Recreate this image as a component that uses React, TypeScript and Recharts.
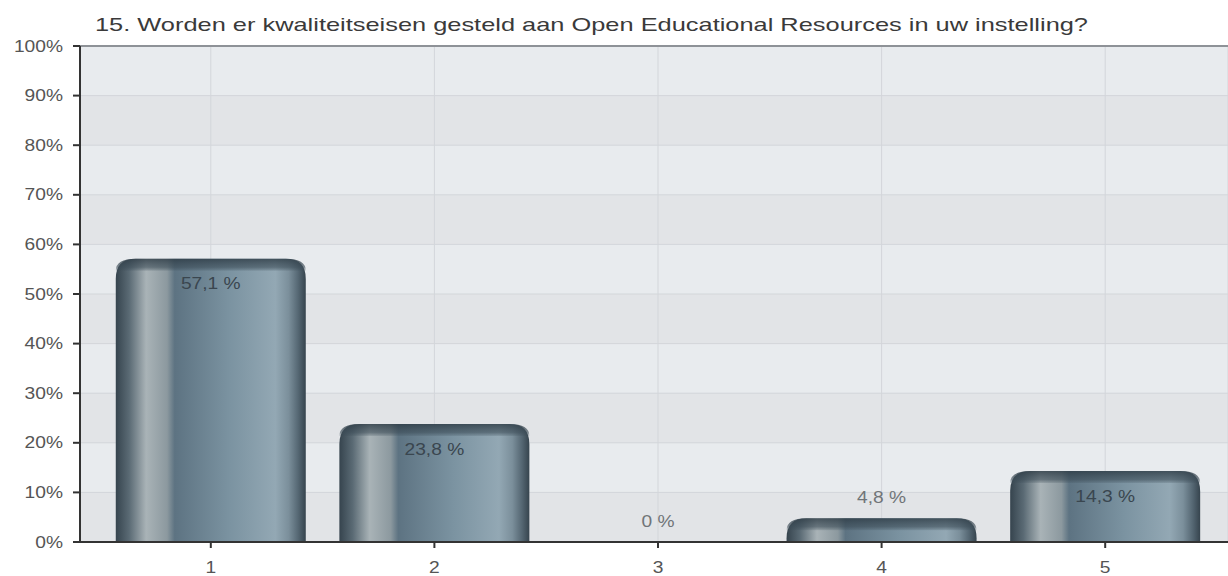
import React from 'react';
import { BarChart, Bar, XAxis, YAxis, CartesianGrid, LabelList, ReferenceLine } from 'recharts';

const title = '15. Worden er kwaliteitseisen gesteld aan Open Educational Resources in uw instelling?';
const categories = ['1', '2', '3', '4', '5'];
const percentages = [57.1, 23.8, 0, 4.8, 14.3];
const yTicks = [0, 10, 20, 30, 40, 50, 60, 70, 80, 90, 100];

const data = categories.map((name, i) => ({ name, value: percentages[i] }));

const FONT = '"Liberation Sans", Arial, sans-serif';
const STRETCH = 1.2;

// cylinder-looking bar with rounded top corners
const CylinderBar = (props: any) => {
  const { x, y, width, height, index } = props;
  if (!height || height <= 0) return null;
  const r = Math.min(20, height, width / 2);
  const capH = Math.min(12, height);
  const body = `M${x},${y + height} L${x},${y + r} Q${x},${y} ${x + r},${y} L${x + width - r},${y} Q${x + width},${y} ${x + width},${y + r} L${x + width},${y + height} Z`;
  const cap = `M${x},${y + capH} L${x},${y + Math.min(r, capH)} Q${x},${y} ${x + r},${y} L${x + width - r},${y} Q${x + width},${y} ${x + width},${y + Math.min(r, capH)} L${x + width},${y + capH} Z`;
  const gid = `bodyGrad${index}`;
  const cid = `capGrad${index}`;
  return (
    <g>
      <defs>
        <linearGradient id={gid} x1="0" y1="0" x2="1" y2="0">
          <stop offset="0%" stopColor="#36444e" />
          <stop offset="7%" stopColor="#5a6a74" />
          <stop offset="16%" stopColor="#a9b3b7" />
          <stop offset="27%" stopColor="#8c999f" />
          <stop offset="31%" stopColor="#5d7382" />
          <stop offset="60%" stopColor="#7b93a1" />
          <stop offset="84%" stopColor="#93a8b4" />
          <stop offset="91%" stopColor="#7b8f9b" />
          <stop offset="96%" stopColor="#556773" />
          <stop offset="100%" stopColor="#36444e" />
        </linearGradient>
        <linearGradient id={cid} x1="0" y1="0" x2="0" y2="1">
          <stop offset="0%" stopColor="#2c3a44" stopOpacity={0.8} />
          <stop offset="70%" stopColor="#3a4a55" stopOpacity={0.6} />
          <stop offset="100%" stopColor="#3a4a55" stopOpacity={0.15} />
        </linearGradient>
      </defs>
      <path d={body} fill={`url(#${gid})`} />
      <path d={cap} fill={`url(#${cid})`} />
    </g>
  );
};

const ValueLabel = (props: any) => {
  const { x, y, width, height, value } = props;
  const inside = height > 40;
  const cx = x + width / 2;
  const cy = inside ? y + 25 : y - 21;
  const text = `${String(value).replace('.', ',')} %`;
  return (
    <text
      transform={`translate(${cx},${cy}) scale(${STRETCH},1)`}
      textAnchor="middle"
      dy="0.35em"
      fontFamily={FONT}
      fontSize={16}
      fill={inside ? '#3a464f' : '#707478'}
    >
      {text}
    </text>
  );
};

const YTick = (props: any) => {
  const { x, y, payload } = props;
  return (
    <text
      transform={`translate(${x},${y}) scale(${STRETCH},1)`}
      textAnchor="end"
      dy="0.35em"
      fontFamily={FONT}
      fontSize={16}
      fill="#555"
    >
      {`${payload.value}%`}
    </text>
  );
};

const XTick = (props: any) => {
  const { x, y, payload } = props;
  return (
    <text
      transform={`translate(${x},${y}) scale(${STRETCH},1)`}
      textAnchor="middle"
      dy="0.35em"
      fontFamily={FONT}
      fontSize={16}
      fill="#555"
    >
      {payload.value}
    </text>
  );
};

export default function App() {
  return (
    <div style={{ position: 'absolute', left: 0, top: 0, width: 1228, height: 576, background: '#fff' }}>
      <svg width={1228} height={40} style={{ position: 'absolute', left: 0, top: 0 }}>
        <text
          x={95}
          y={31}
          fontFamily={FONT}
          fontSize={19}
          fill="#3a3a3a"
          textLength={993}
          lengthAdjust="spacingAndGlyphs"
        >
          {title}
        </text>
      </svg>
      <BarChart
        width={1228}
        height={576}
        data={data}
        margin={{ top: 46, right: 0, bottom: 0, left: 0 }}
        barCategoryGap="7.5%"
      >
        <CartesianGrid
          stroke="#d3d6da"
          horizontalFill={['#e8ebee', '#e2e4e7']}
          fillOpacity={1}
        />
        <ReferenceLine y={100} stroke="#8e9297" strokeWidth={2} />
        <XAxis
          dataKey="name"
          height={34}
          padding={{ left: 19, right: 11 }}
          axisLine={{ stroke: '#333', strokeWidth: 2 }}
          tickLine={{ stroke: '#333', strokeWidth: 2 }}
          tickSize={6}
          tickMargin={19}
          tick={<XTick />}
        />
        <YAxis
          domain={[0, 100]}
          ticks={yTicks}
          width={80}
          interval={0}
          axisLine={{ stroke: '#333', strokeWidth: 2 }}
          tickLine={{ stroke: '#333', strokeWidth: 2 }}
          tickSize={7}
          tickMargin={10}
          tick={<YTick />}
        />
        <Bar dataKey="value" shape={<CylinderBar />} isAnimationActive={false}>
          <LabelList dataKey="value" content={<ValueLabel />} />
        </Bar>
      </BarChart>
    </div>
  );
}
